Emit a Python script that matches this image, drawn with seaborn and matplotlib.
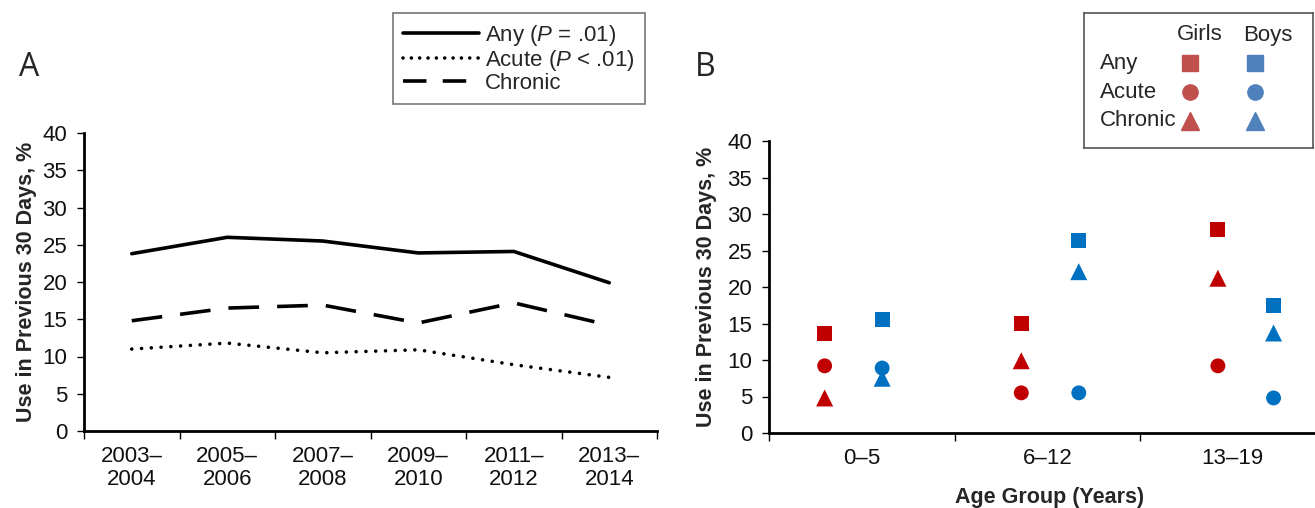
import matplotlib
matplotlib.use("Agg")
import matplotlib.pyplot as plt
import seaborn as sns
import pandas as pd
import numpy as np
from matplotlib.lines import Line2D

# ---------------- data ----------------
periods = ["2003–\n2004", "2005–\n2006", "2007–\n2008", "2009–\n2010", "2011–\n2012", "2013–\n2014"]
any_use = [23.8, 26.0, 25.5, 23.9, 24.1, 19.9]
acute_use = [11.0, 11.8, 10.5, 10.9, 8.9, 7.2]
chronic_use = [14.8, 16.5, 16.9, 14.5, 17.2, 14.2]
series_labels = ["Any ($\\mathit{P}$ = .01)", "Acute ($\\mathit{P}$ < .01)", "Chronic"]

age_groups = ["0–5", "6–12", "13–19"]
girls_x = [0.30, 1.36, 2.42]
boys_x = [0.61, 1.67, 2.72]
girls_any = [13.6, 15.0, 27.9]
girls_acute = [9.2, 5.5, 9.2]
girls_chronic = [4.8, 9.9, 21.2]
boys_any = [15.6, 26.4, 17.5]
boys_acute = [8.9, 5.5, 4.8]
boys_chronic = [7.5, 22.1, 13.7]

# ---------------- style ----------------
sns.set_theme(style="ticks")
FONT = ["Liberation Sans", "DejaVu Sans"]
plt.rcParams["font.family"] = FONT
plt.rcParams["mathtext.fontset"] = "custom"
plt.rcParams["mathtext.rm"] = "Liberation Sans"
plt.rcParams["mathtext.it"] = "Liberation Sans:italic"

TICK_FS = 16
LABEL_FS = 15.5
W, H = 1315, 508
fig = plt.figure(figsize=(W / 100, H / 100), dpi=100)

def fx(px):
    return px / W

def fy(py):
    return 1 - py / H

# ---------------- Panel A ----------------
axA = fig.add_axes([fx(84), fy(431), fx(657 - 84), (431 - 133) / H])
x_idx = np.arange(len(periods))
dfA = pd.DataFrame({
    "x": np.tile(x_idx, 3),
    "value": any_use + acute_use + chronic_use,
    "type": ["Any"] * 6 + ["Acute"] * 6 + ["Chronic"] * 6,
})
sns.lineplot(data=dfA, x="x", y="value", style="type",
             style_order=["Any", "Acute", "Chronic"],
             dashes={"Any": "", "Acute": (0.01, 2.7), "Chronic": (8.5, 5.0)},
             color="black", linewidth=2.6, legend=False, sort=False, ax=axA)
for ln in axA.lines:
    ln.set_dash_capstyle("round")
axA.lines[2].set_dash_capstyle("butt")

axA.set_xlim(-0.5, 5.5)
axA.set_ylim(0, 40)
axA.set_yticks(np.arange(0, 41, 5))
axA.set_xticks(np.arange(-0.5, 5.6, 1))
axA.set_xticklabels([])
axA.set_xticks(x_idx, minor=True)
axA.set_xticklabels(periods, minor=True, fontsize=TICK_FS, linespacing=1.1)
axA.tick_params(axis="x", which="minor", length=0, pad=11)
axA.set_xlabel("")
axA.set_ylabel("Use in Previous 30 Days, %", fontsize=LABEL_FS, fontweight="bold")
axA.yaxis.set_label_coords(-0.082, 0.5)

handles = [Line2D([0], [0], color="black", lw=2.6, linestyle=axA.lines[i].get_linestyle(),
                  dash_capstyle=("round" if i == 1 else "butt")) for i in range(3)]
handles[1].set_dashes((0.01, 2.3))
handles[2].set_dashes((6.5, 4.5))
legA = axA.legend(handles=handles, labels=series_labels, loc="upper left",
                  bbox_to_anchor=(fx(393), fy(13)), bbox_transform=fig.transFigure,
                  fontsize=TICK_FS, frameon=True, fancybox=False, handlelength=3.4,
                  handletextpad=0.3, labelspacing=0.0, borderpad=0.45, borderaxespad=0)
legA.get_frame().set_edgecolor("#555555")
legA.get_frame().set_linewidth(1.2)

# ---------------- Panel B ----------------
axB = fig.add_axes([fx(769), fy(433), fx(1315 - 769), (433 - 141) / H])
rows = []
for g, xs, vals in [("Girls", girls_x, [girls_any, girls_acute, girls_chronic]),
                    ("Boys", boys_x, [boys_any, boys_acute, boys_chronic])]:
    for t, v in zip(["Any", "Acute", "Chronic"], vals):
        for xi, yi in zip(xs, v):
            rows.append({"x": xi, "value": yi, "gender": g, "type": t})
dfB = pd.DataFrame(rows)
sns.scatterplot(data=dfB, x="x", y="value", hue="gender", style="type", size="type",
                palette={"Girls": "#C00000", "Boys": "#0070C0"},
                markers={"Any": "s", "Acute": "o", "Chronic": "^"},
                sizes={"Any": 115, "Acute": 115, "Chronic": 150},
                linewidth=0, legend=False, ax=axB)
xmaxB = (1315 - 769) / 185.5
axB.set_xlim(0, xmaxB)
axB.set_ylim(0, 40)
axB.set_yticks(np.arange(0, 41, 5))
axB.set_xticks([0, 1, 2])
axB.set_xticklabels([])
axB.set_xticks([0.5, 1.5, 2.5], minor=True)
axB.set_xticklabels(age_groups, minor=True, fontsize=TICK_FS)
axB.tick_params(axis="x", which="minor", length=0, pad=11)
axB.set_xlabel("Age Group (Years)", fontsize=LABEL_FS, fontweight="bold")
axB.xaxis.set_label_coords(1.51 / xmaxB, -0.185)
axB.set_ylabel("Use in Previous 30 Days, %", fontsize=LABEL_FS, fontweight="bold")
axB.yaxis.set_label_coords(-0.095, 0.5)

for ax in (axA, axB):
    sns.despine(ax=ax)
    ax.spines["left"].set_linewidth(2.0)
    ax.spines["bottom"].set_linewidth(2.0)
    ax.spines["left"].set_color("black")
    ax.spines["bottom"].set_color("black")
    ax.tick_params(axis="y", which="major", labelsize=TICK_FS, length=5, width=1, pad=7,
                   color="black", labelcolor="#111111")
    ax.tick_params(axis="x", which="major", length=6, width=1, color="black", direction="out")
    ax.tick_params(axis="x", which="minor", labelcolor="#111111")

# ---------------- Panel B legend (box) ----------------
legax = fig.add_axes([fx(1084), fy(148), fx(1313 - 1084), (148 - 13) / H])
legax.set_xlim(0, 1)
legax.set_ylim(0, 1)
legax.set_xticks([])
legax.set_yticks([])
for sp in legax.spines.values():
    sp.set_visible(True)
    sp.set_edgecolor("#555555")
    sp.set_linewidth(1.2)

def lx(px):
    return (px - 1084) / (1313 - 1084)

def ly(py):
    return (148 - py) / (148 - 13)

legax.text(lx(1200), ly(35), "Girls", ha="center", va="center", fontsize=TICK_FS)
legax.text(lx(1268), ly(35), "Boys", ha="center", va="center", fontsize=TICK_FS)
row_names = ["Any", "Acute", "Chronic"]
row_markers = ["s", "o", "^"]
row_msize = [11, 11, 13]
row_y = [63, 92, 121]
for name, mk, ms, yy in zip(row_names, row_markers, row_msize, row_y):
    legax.text(lx(1100), ly(yy), name, ha="left", va="center", fontsize=TICK_FS)
    legax.plot([lx(1190)], [ly(yy)], marker=mk, color="#C0504D", markersize=ms, linestyle="none")
    legax.plot([lx(1255)], [ly(yy)], marker=mk, color="#4F81BD", markersize=ms, linestyle="none")

# ---------------- Panel letters ----------------
fig.text(fx(19), fy(67), "A", fontsize=23, ha="left", va="center", family=["Open Sans", "DejaVu Sans"])
fig.text(fx(695), fy(67), "B", fontsize=23, ha="left", va="center", family=["Open Sans", "DejaVu Sans"])

fig.savefig("out.png", dpi=100)
